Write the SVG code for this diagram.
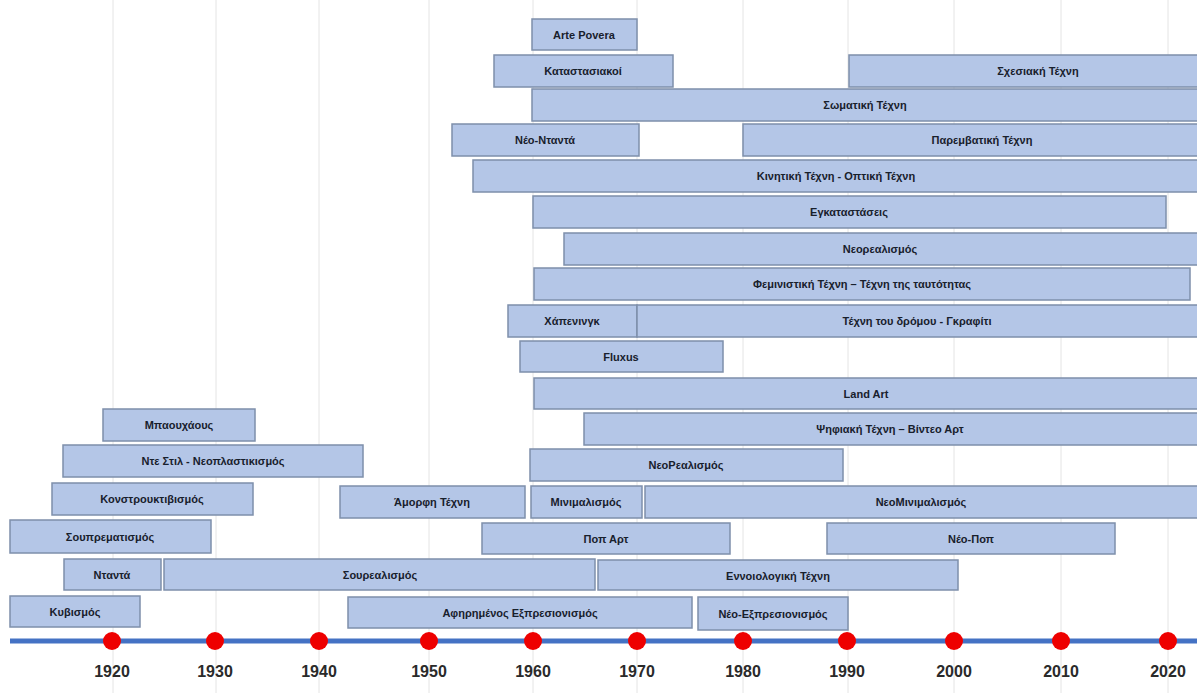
<svg xmlns="http://www.w3.org/2000/svg" width="1197" height="693" viewBox="0 0 1197 693">
<style>
.grid{stroke:#e4e4e4;stroke-width:1}
.bar{fill:#b4c6e7;stroke:#7e8fab;stroke-width:1.5}
.lbl{font-family:"Liberation Sans",Arial,sans-serif;font-weight:bold;font-size:11px;fill:#18202c;text-anchor:middle}
.yr{font-family:"Liberation Sans",Arial,sans-serif;font-weight:bold;font-size:16px;fill:#2a2a2a;text-anchor:middle}
.dot{fill:#ee0000}
</style>
<rect width="1197" height="693" fill="#fff"/>
<g id="grid">
<line class="grid" x1="113" y1="0" x2="113" y2="693"/>
<line class="grid" x1="216" y1="0" x2="216" y2="693"/>
<line class="grid" x1="319" y1="0" x2="319" y2="693"/>
<line class="grid" x1="429" y1="0" x2="429" y2="693"/>
<line class="grid" x1="533" y1="0" x2="533" y2="693"/>
<line class="grid" x1="637" y1="0" x2="637" y2="693"/>
<line class="grid" x1="743" y1="0" x2="743" y2="693"/>
<line class="grid" x1="848" y1="0" x2="848" y2="693"/>
<line class="grid" x1="954" y1="0" x2="954" y2="693"/>
<line class="grid" x1="1061" y1="0" x2="1061" y2="693"/>
<line class="grid" x1="1168" y1="0" x2="1168" y2="693"/>
</g>
<g id="connectors"></g>
<g id="arte-povera"><rect class="bar" x="532" y="19" width="105" height="31"/><text class="lbl" x="584" y="39">Arte Povera</text></g>
<g id="katastasiakoi"><rect class="bar" x="494" y="55" width="179" height="32"/><text class="lbl" x="583" y="75">Καταστασιακοί</text></g>
<g id="sxesiaki"><rect class="bar" x="849" y="55" width="360" height="32"/><text class="lbl" x="1038" y="75">Σχεσιακή Τέχνη</text></g>
<g id="somatiki"><rect class="bar" x="532" y="89" width="677" height="32"/><text class="lbl" x="865" y="109">Σωματική Τέχνη</text></g>
<g id="neo-ntanta"><rect class="bar" x="452" y="124" width="187" height="32"/><text class="lbl" x="545" y="144">Νέο-Νταντά</text></g>
<g id="paremvatiki"><rect class="bar" x="743" y="124" width="466" height="32"/><text class="lbl" x="982" y="144">Παρεμβατική Τέχνη</text></g>
<g id="kinitiki"><rect class="bar" x="473" y="160" width="736" height="32"/><text class="lbl" x="836" y="180">Κινητική Τέχνη - Οπτική Τέχνη</text></g>
<g id="egkatastaseis"><rect class="bar" x="533" y="196" width="633" height="32"/><text class="lbl" x="849" y="216">Εγκαταστάσεις</text></g>
<g id="neorealismos"><rect class="bar" x="564" y="233" width="645" height="32"/><text class="lbl" x="880" y="253">Νεορεαλισμός</text></g>
<g id="feministiki"><rect class="bar" x="534" y="268" width="656" height="32"/><text class="lbl" x="862" y="288">Φεμινιστική Τέχνη – Τέχνη της ταυτότητας</text></g>
<g id="happening"><rect class="bar" x="508" y="305" width="129" height="32"/><text class="lbl" x="572" y="325">Χάπενινγκ</text></g>
<g id="street-art"><rect class="bar" x="637" y="305" width="572" height="32"/><text class="lbl" x="917" y="325">Τέχνη του δρόμου - Γκραφίτι</text></g>
<g id="fluxus"><rect class="bar" x="520" y="341" width="203" height="31"/><text class="lbl" x="621" y="361">Fluxus</text></g>
<g id="land-art"><rect class="bar" x="534" y="378" width="675" height="31"/><text class="lbl" x="866" y="398">Land Art</text></g>
<g id="bauhaus"><rect class="bar" x="103" y="409" width="152" height="32"/><text class="lbl" x="179" y="429">Μπαουχάους</text></g>
<g id="psifiaki"><rect class="bar" x="584" y="413" width="625" height="32"/><text class="lbl" x="890" y="433">Ψηφιακή Τέχνη – Βίντεο Αρτ</text></g>
<g id="de-stijl"><rect class="bar" x="63" y="445" width="300" height="32"/><text class="lbl" x="213" y="465">Ντε Στιλ - Νεοπλαστικισμός</text></g>
<g id="neorealismos2"><rect class="bar" x="530" y="449" width="313" height="32"/><text class="lbl" x="686" y="469">ΝεοΡεαλισμός</text></g>
<g id="konstruktivismos"><rect class="bar" x="52" y="483" width="201" height="32"/><text class="lbl" x="152" y="503">Κονστρουκτιβισμός</text></g>
<g id="amorfi"><rect class="bar" x="340" y="486" width="185" height="32"/><text class="lbl" x="432" y="506">Άμορφη Τέχνη</text></g>
<g id="minimalismos"><rect class="bar" x="531" y="486" width="111" height="32"/><text class="lbl" x="586" y="506">Μινιμαλισμός</text></g>
<g id="neominimalismos"><rect class="bar" x="645" y="486" width="564" height="32"/><text class="lbl" x="921" y="506">ΝεοΜινιμαλισμός</text></g>
<g id="souprematismos"><rect class="bar" x="10" y="520" width="201" height="33"/><text class="lbl" x="110" y="541">Σουπρεματισμός</text></g>
<g id="pop-art"><rect class="bar" x="482" y="523" width="248" height="31"/><text class="lbl" x="606" y="543">Ποπ Αρτ</text></g>
<g id="neo-pop"><rect class="bar" x="827" y="523" width="288" height="31"/><text class="lbl" x="971" y="543">Νέο-Ποπ</text></g>
<g id="ntanta"><rect class="bar" x="64" y="559" width="97" height="31"/><text class="lbl" x="112" y="579">Νταντά</text></g>
<g id="sourealismos"><rect class="bar" x="164" y="559" width="431" height="31"/><text class="lbl" x="380" y="579">Σουρεαλισμός</text></g>
<g id="ennoiologiki"><rect class="bar" x="598" y="560" width="360" height="30"/><text class="lbl" x="778" y="580">Εννοιολογική Τέχνη</text></g>
<g id="kyvismos"><rect class="bar" x="10" y="596" width="130" height="31"/><text class="lbl" x="75" y="616">Κυβισμός</text></g>
<g id="afirimenos"><rect class="bar" x="348" y="597" width="344" height="31"/><text class="lbl" x="520" y="617">Αφηρημένος Εξπρεσιονισμός</text></g>
<g id="neo-expressionismos"><rect class="bar" x="698" y="597" width="150" height="33"/><text class="lbl" x="773" y="618">Νέο-Εξπρεσιονισμός</text></g>
<g id="axis">
<line x1="10" y1="641" x2="1197" y2="641" stroke="#4472c4" stroke-width="5"/>
<circle class="dot" cx="112" cy="641" r="9"/>
<circle class="dot" cx="215" cy="641" r="9"/>
<circle class="dot" cx="319" cy="641" r="9"/>
<circle class="dot" cx="429" cy="641" r="9"/>
<circle class="dot" cx="533" cy="641" r="9"/>
<circle class="dot" cx="637" cy="641" r="9"/>
<circle class="dot" cx="743" cy="641" r="9"/>
<circle class="dot" cx="847" cy="641" r="9"/>
<circle class="dot" cx="954" cy="641" r="9"/>
<circle class="dot" cx="1061" cy="641" r="9"/>
<circle class="dot" cx="1168" cy="641" r="9"/>
<text class="yr" x="112" y="677">1920</text>
<text class="yr" x="215" y="677">1930</text>
<text class="yr" x="319" y="677">1940</text>
<text class="yr" x="429" y="677">1950</text>
<text class="yr" x="533" y="677">1960</text>
<text class="yr" x="637" y="677">1970</text>
<text class="yr" x="743" y="677">1980</text>
<text class="yr" x="847" y="677">1990</text>
<text class="yr" x="954" y="677">2000</text>
<text class="yr" x="1061" y="677">2010</text>
<text class="yr" x="1168" y="677">2020</text>
</g>
</svg>
